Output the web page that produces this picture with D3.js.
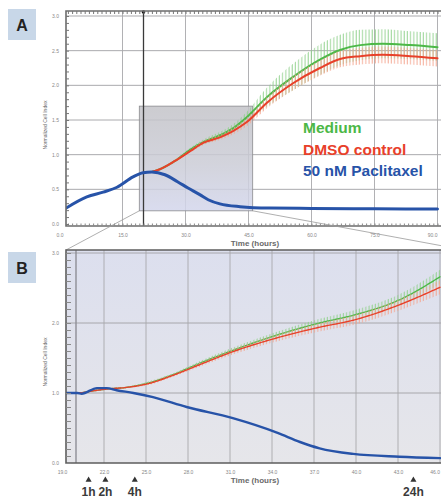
<!DOCTYPE html>
<html>
<head>
<meta charset="utf-8">
<script src="https://cdn.jsdelivr.net/npm/d3@7"></script>
<style>
  body { margin: 0; background: #fff; }
  svg { display: block; font-family: "Liberation Sans", Arial, sans-serif; }
</style>
</head>
<body>
<svg id="chart" width="441" height="498"></svg>
<script>
// ---- data ----
const treatmentTime = 20;

// Panel A, whole run
const timeTicksA = [0, 15, 30, 45, 60, 75, 90];
const indexTicksA = [0, 0.5, 1, 1.5, 2, 2.5, 3];
const zoomWindowTime = [19, 46];
const zoomWindowIndex = [0.19, 1.7];

const paclitaxelTimeA = [1.6, 6.5, 10.4, 13.7, 17.5, 19.9, 22, 25.1, 28.1, 30.6, 33.5, 35.4, 38.2, 43, 50, 60, 75, 90];
const paclitaxelA = [0.23, 0.39, 0.46, 0.53, 0.68, 0.74, 0.75, 0.71, 0.61, 0.52, 0.42, 0.35, 0.29, 0.25, 0.23, 0.225, 0.22, 0.215];

const controlTimeA = [22, 23.9, 27.5, 31.1, 34.2, 38.2, 41.3, 44.6, 49.4, 55.6, 62, 66.8, 71.6, 77, 83.5, 90];
const mediumA = [0.75, 0.79, 0.91, 1.07, 1.18, 1.28, 1.38, 1.54, 1.83, 2.12, 2.37, 2.51, 2.58, 2.6, 2.58, 2.55];
const mediumErrA = [0, 0.01, 0.02, 0.03, 0.04, 0.05, 0.06, 0.08, 0.14, 0.19, 0.22, 0.22, 0.22, 0.21, 0.2, 0.2];
const dmsoA = [0.75, 0.79, 0.91, 1.05, 1.17, 1.25, 1.34, 1.47, 1.75, 2.03, 2.25, 2.38, 2.42, 2.44, 2.42, 2.39];
const dmsoErrA = [0, 0.01, 0.02, 0.02, 0.03, 0.04, 0.05, 0.06, 0.08, 0.1, 0.11, 0.12, 0.12, 0.12, 0.12, 0.12];

// Panel B, zoom on the treatment window
const timeTicksB = [19, 22, 25, 28, 31, 34, 37, 40, 43, 46];
const indexTicksB = [0, 1, 2, 3];

const paclitaxelTimeB = [19.3, 20.1, 20.4, 21.5, 22.2, 22.9, 24.1, 25.5, 27.9, 31.2, 34.4, 36, 37.4, 39.8, 43.1, 46];
const paclitaxelB = [1.0, 1.0, 0.99, 1.07, 1.07, 1.04, 1.0, 0.94, 0.8, 0.64, 0.43, 0.3, 0.21, 0.13, 0.09, 0.07];

const controlTimeB = [19.3, 20.1, 21.5, 22.4, 23.6, 25.1, 26.9, 28.9, 31.2, 34.4, 37.4, 39.8, 43.1, 46];
const mediumB = [1.0, 1.0, 1.04, 1.06, 1.08, 1.14, 1.26, 1.43, 1.61, 1.83, 2.0, 2.11, 2.33, 2.66];
const mediumErrB = [0, 0, 0.01, 0.01, 0.01, 0.02, 0.02, 0.03, 0.04, 0.05, 0.06, 0.07, 0.08, 0.1];
const dmsoB = [1.0, 1.0, 1.04, 1.06, 1.08, 1.13, 1.25, 1.41, 1.59, 1.79, 1.94, 2.04, 2.26, 2.51];
const dmsoErrB = [0, 0, 0.01, 0.01, 0.01, 0.02, 0.02, 0.03, 0.04, 0.05, 0.06, 0.07, 0.08, 0.1];

// where the time-point arrows sit on the B time axis (hours), as drawn
const markerTimes = [20.9, 22.1, 24.2, 44.1];
const markerLabels = ["1h", "2h", "4h", "24h"];

const legendLabels = ["Medium", "DMSO control", "50 nM Paclitaxel"];
const seriesColors = { medium: "#4cb847", dmso: "#e8402a", paclitaxel: "#2753a8" };

// ---- setup ----
const svg = d3.select("#chart");
const defs = svg.append("defs");

const gradB = defs.append("linearGradient").attr("id", "bgB")
  .attr("x1", 0).attr("y1", 0).attr("x2", 0).attr("y2", 1);
gradB.append("stop").attr("offset", "0%").attr("stop-color", "#dcdfee");
gradB.append("stop").attr("offset", "100%").attr("stop-color", "#e6e6ea");

const gradBox = defs.append("linearGradient").attr("id", "boxA")
  .attr("x1", 0).attr("y1", 0).attr("x2", 0).attr("y2", 1);
gradBox.append("stop").attr("offset", "0%").attr("stop-color", "#c3c3c8");
gradBox.append("stop").attr("offset", "55%").attr("stop-color", "#cbccd6");
gradBox.append("stop").attr("offset", "100%").attr("stop-color", "#d3d6ec");

function hatch(id, color) {
  const p = defs.append("pattern").attr("id", id)
    .attr("patternUnits", "userSpaceOnUse").attr("width", 3.2).attr("height", 10);
  p.append("line").attr("x1", 1).attr("x2", 1).attr("y1", 0).attr("y2", 10)
    .attr("stroke", color).attr("stroke-width", 0.9);
}
hatch("hatchGreen", "#8fd08a");
hatch("hatchRed", "#f4a48f");

// small helper for one panel
function drawPanel(cfg) {
  const { box, x, y, xTicks, yTicks, fmtX, fmtY, id } = cfg;
  const g = svg.append("g").attr("id", id);

  defs.append("clipPath").attr("id", id + "-clip")
    .append("rect").attr("x", box.left).attr("y", box.top)
    .attr("width", box.right - box.left).attr("height", box.bottom - box.top);

  if (cfg.bg) {
    g.append("rect").attr("x", box.left).attr("y", box.top)
      .attr("width", box.right - box.left).attr("height", box.bottom - box.top)
      .attr("fill", cfg.bg);
  }

  // grid
  const grid = g.append("g").attr("clip-path", `url(#${id}-clip)`);
  grid.selectAll(".hg").data(yTicks.slice(1)).join("line")
    .attr("x1", box.left).attr("x2", box.right)
    .attr("y1", (d) => y(d)).attr("y2", (d) => y(d))
    .attr("stroke", "#a0a0a4").attr("stroke-width", 0.9);
  grid.selectAll(".vg").data(xTicks.slice(1)).join("line")
    .attr("x1", (d) => x(d)).attr("x2", (d) => x(d))
    .attr("y1", box.top).attr("y2", box.bottom)
    .attr("stroke", "#a8a8ac").attr("stroke-width", 0.9);

  // tick labels
  g.append("g").attr("transform", `translate(0,${box.bottom})`)
    .call(d3.axisBottom(x).tickValues(xTicks).tickSize(0).tickPadding(7).tickFormat(fmtX))
    .call((a) => a.select(".domain").remove())
    .call((a) => a.selectAll("text").attr("font-size", 5).attr("fill", "#888")
      .attr("font-family", "Liberation Sans, Arial"))
    // last label sits on the window edge
    .call((a) => a.selectAll(".tick:last-of-type text").attr("text-anchor", "end").attr("dx", -0.5));
  g.append("g").attr("transform", `translate(${box.left - 4},0)`)
    .call(d3.axisLeft(y).tickValues(yTicks).tickSize(0).tickPadding(3).tickFormat(fmtY))
    .call((a) => a.select(".domain").remove())
    .call((a) => a.selectAll("text").attr("font-size", 5).attr("fill", "#888")
      .attr("font-family", "Liberation Sans, Arial"));

  // axis titles
  g.append("text").attr("x", cfg.xTitle[0]).attr("y", cfg.xTitle[1])
    .attr("text-anchor", "middle").attr("font-size", 8).attr("font-weight", "bold")
    .attr("fill", "#6a6a6a").text("Time (hours)");
  g.append("text")
    .attr("transform", `translate(${cfg.yTitle[0]},${cfg.yTitle[1]}) rotate(-90)`)
    .attr("text-anchor", "middle").attr("font-size", 5).attr("fill", "#666")
    .text("Normalized Cell Index");

  return g;
}

function drawSeries(g, id, x, y, times, values, errs, color, pattern, width, dash) {
  const layer = g.append("g").attr("clip-path", `url(#${id}-clip)`);
  const pts = times.map((t, i) => ({ t, v: values[i], e: errs ? errs[i] : 0 }));
  if (errs) {
    layer.append("path").datum(pts)
      .attr("d", d3.area().curve(d3.curveMonotoneX)
        .x((d) => x(d.t)).y0((d) => y(d.v - d.e)).y1((d) => y(d.v + d.e)))
      .attr("fill", `url(#${pattern})`);
  }
  layer.append("path").datum(pts)
    .attr("d", d3.line().curve(d3.curveMonotoneX).x((d) => x(d.t)).y((d) => y(d.v)))
    .attr("fill", "none").attr("stroke", color).attr("stroke-width", width)
    .attr("stroke-linejoin", "round").attr("stroke-linecap", "round")
    .attr("stroke-dasharray", dash || null);
}

function frame(g, box, lineColor) {
  g.append("path")
    .attr("d", `M${box.right + 2},${box.top}H${box.left}V${box.bottom}H${box.right + 2}`)
    .attr("fill", "none").attr("stroke", lineColor).attr("stroke-width", 1.6);
}

// ---- Panel A ----
const boxA = { left: 66, right: 441, top: 11, bottom: 226 };
const xA = d3.scaleLinear().domain([0, 90]).range([59.5, 437.5]);
const yA = d3.scaleLinear().domain([0, 3]).range([224, 16]);

const gA = drawPanel({
  id: "panelA", box: boxA, x: xA, y: yA,
  xTicks: timeTicksA, yTicks: indexTicksA,
  fmtX: d3.format(".1f"), fmtY: d3.format(".1f"),
  xTitle: [255, 246], yTitle: [47, 125]
});

// zoom window box
gA.append("rect")
  .attr("x", xA(zoomWindowTime[0])).attr("y", yA(zoomWindowIndex[1]))
  .attr("width", xA(zoomWindowTime[1]) - xA(zoomWindowTime[0]))
  .attr("height", yA(zoomWindowIndex[0]) - yA(zoomWindowIndex[1]))
  .attr("fill", "url(#boxA)").attr("fill-opacity", 0.85)
  .attr("stroke", "#8a8a8e").attr("stroke-width", 0.8);

// treatment cursor
gA.append("line").attr("x1", xA(treatmentTime)).attr("x2", xA(treatmentTime))
  .attr("y1", boxA.top).attr("y2", boxA.bottom)
  .attr("stroke", "#3a3a3a").attr("stroke-width", 1.3);
gA.append("circle").attr("cx", xA(treatmentTime)).attr("cy", boxA.top + 1).attr("r", 1.8)
  .attr("fill", "#111");

drawSeries(gA, "panelA", xA, yA, controlTimeA, mediumA, mediumErrA, seriesColors.medium, "hatchGreen", 2);
drawSeries(gA, "panelA", xA, yA, controlTimeA, dmsoA, dmsoErrA, seriesColors.dmso, "hatchRed", 2);
drawSeries(gA, "panelA", xA, yA, paclitaxelTimeA, paclitaxelA, null, seriesColors.paclitaxel, null, 3);

frame(gA, boxA, "#6c6c6c");
// ruler ticks top and bottom, minor ticks on the left
gA.append("g").attr("transform", `translate(0,${boxA.top})`)
  .call(d3.axisTop(xA).tickValues(d3.range(2, 91)).tickSize(-3).tickFormat(""))
  .call((a) => a.select(".domain").remove())
  .call((a) => a.selectAll("line").attr("stroke", "#777"));
gA.append("g").attr("transform", `translate(0,${boxA.bottom})`)
  .call(d3.axisBottom(xA).tickValues(d3.range(2, 91)).tickSize(-2.5).tickFormat(""))
  .call((a) => a.select(".domain").remove())
  .call((a) => a.selectAll("line").attr("stroke", "#888"));
gA.append("g").attr("transform", `translate(${boxA.left},0)`)
  .call(d3.axisLeft(yA).tickValues(d3.range(0, 3.01, 0.1)).tickSize(-3).tickFormat(""))
  .call((a) => a.select(".domain").remove())
  .call((a) => a.selectAll("line").attr("stroke", "#777"));

// ---- Panel B ----
const boxB = { left: 66, right: 441, top: 250, bottom: 463 };
const xB = d3.scaleLinear().domain([19, 46]).range([62, 440]);
const yB = d3.scaleLinear().domain([0, 3]).range([463, 253]);

// connector lines from the zoom window down to panel B
svg.append("g").selectAll("line")
  .data([[zoomWindowTime[0], boxB.left], [zoomWindowTime[1], 470]])
  .join("line")
  .attr("x1", (d) => xA(d[0])).attr("y1", yA(zoomWindowIndex[0]))
  .attr("x2", (d) => d[1]).attr("y2", (d, i) => (i === 0 ? boxB.top : 251))
  .attr("stroke", "#9a9a9a").attr("stroke-width", 0.8);

const gB = drawPanel({
  id: "panelB", box: boxB, x: xB, y: yB,
  xTicks: timeTicksB, yTicks: indexTicksB,
  fmtX: d3.format(".1f"), fmtY: d3.format(".1f"),
  xTitle: [255, 483], yTitle: [47, 362], bg: "url(#bgB)"
});

gB.append("line").attr("x1", xB(treatmentTime)).attr("x2", xB(treatmentTime))
  .attr("y1", boxB.top).attr("y2", boxB.bottom)
  .attr("stroke", "#8e8e96").attr("stroke-width", 1.4);

drawSeries(gB, "panelB", xB, yB, controlTimeB, mediumB, mediumErrB, seriesColors.medium, "hatchGreen", 1.4, "3,1");
drawSeries(gB, "panelB", xB, yB, controlTimeB, dmsoB, dmsoErrB, seriesColors.dmso, "hatchRed", 1.4, "3,1");
drawSeries(gB, "panelB", xB, yB, paclitaxelTimeB, paclitaxelB, null, seriesColors.paclitaxel, null, 2.4);

frame(gB, boxB, "#5e5e5e");
gB.append("g").attr("transform", `translate(${boxB.left},0)`)
  .call(d3.axisLeft(yB).tickValues(d3.range(0, 3.01, 0.1)).tickSize(-5).tickFormat(""))
  .call((a) => a.select(".domain").remove())
  .call((a) => a.selectAll("line").attr("stroke", "#888"));

// time-point markers under panel B
const markers = gB.append("g").selectAll("g").data(markerTimes).join("g")
  .attr("transform", (d) => `translate(${xB(d)},0)`);
markers.append("path").attr("transform", "translate(0,480)")
  .attr("d", d3.symbol(d3.symbolTriangle).size(16)).attr("fill", "#333");
markers.append("text").attr("y", 496).attr("text-anchor", "middle")
  .attr("font-size", 12).attr("font-weight", "bold").attr("fill", "#3a3a3a")
  .text((d, i) => markerLabels[i]);

// ---- panel letters ----
const letters = svg.append("g").selectAll("g")
  .data([["A", 9], ["B", 252]]).join("g")
  .attr("transform", (d) => `translate(8,${d[1]})`);
letters.append("rect").attr("width", 28).attr("height", 31).attr("fill", "#c8d7e8");
letters.append("text").attr("x", 14).attr("y", 21.5).attr("text-anchor", "middle")
  .attr("font-size", 16).attr("font-weight", "bold").attr("fill", "#222")
  .text((d) => d[0]);

// ---- legend ----
svg.append("g").selectAll("text")
  .data(legendLabels).join("text")
  .attr("x", 303).attr("y", (d, i) => 133 + i * 21.7)
  .attr("font-size", 15.5).attr("font-weight", "bold")
  .attr("fill", (d, i) => [seriesColors.medium, seriesColors.dmso, seriesColors.paclitaxel][i])
  .text((d) => d);
</script>
</body>
</html>
